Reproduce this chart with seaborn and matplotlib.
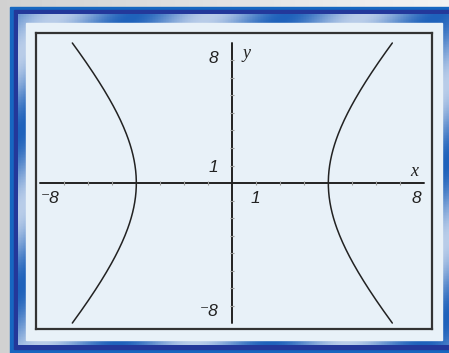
import numpy as np
import pandas as pd
import matplotlib
matplotlib.use("Agg")
import matplotlib.pyplot as plt
import seaborn as sns
from matplotlib.patches import Rectangle

# hyperbola x^2/a^2 - y^2/b^2 = 1, drawn for y in [-8, 8]
a = 4
b = 6
y_vals = np.linspace(-8, 8, 161)
x_ticks = [-7, -6, -5, -4, -3, -2, -1, 1, 2, 3, 4, 5, 6, 7]
y_ticks = [-7, -6, -5, -4, -3, -2, -1, 1, 2, 3, 4, 5, 6, 7]
axis_len = 8

W, H = 449, 353
sns.set_theme(style="white")
plt.rcParams['font.family'] = ['Liberation Sans', 'DejaVu Sans']

fig = plt.figure(figsize=(W / 100, H / 100), dpi=100)

# decorative frame drawn in pixel coordinates
bg = fig.add_axes([0, 0, 1, 1])
bg.set_xlim(0, W)
bg.set_ylim(H, 0)
bg.axis("off")
gray = np.linspace(0.82, 0.95, 64)[None, :]
bg.imshow(gray, cmap="gray", vmin=0, vmax=1, extent=[0, W, H, 0], aspect="auto", zorder=0)
bg.add_patch(Rectangle((10, 7), W - 10, H - 7, color="#1767c0", zorder=1))
bg.add_patch(Rectangle((14, 10), W - 14, 339, color="#23389a", zorder=2))
yy, xx = np.mgrid[0:120, 0:160]
stripes = 0.5 + 0.5 * np.sin((xx + yy) / 9.0)
cmap = matplotlib.colors.LinearSegmentedColormap.from_list("bl", ["#1f62bb", "#b9cde9"])
bg.imshow(stripes, cmap=cmap, extent=[18, W, 345, 14], aspect="auto", zorder=3)
bg.add_patch(Rectangle((26, 23), 416, 317, color="#e8f1f8", zorder=4))

ax = fig.add_axes([36 / W, 1 - 329 / H, 396 / W, 296 / H])
ax.set_facecolor("#e8f1f8")
ax.set_xlim(-8.18, 8.32)
ax.set_ylim(-8.34, 8.57)
for s in ax.spines.values():
    s.set_color("#333333")
    s.set_linewidth(1.6)
ax.set_xticks([])
ax.set_yticks([])
ax.grid(False)

# coordinate axes
ax.plot([-axis_len, axis_len], [0, 0], color="#222222", lw=1.4, zorder=2)
ax.plot([0, 0], [-axis_len, axis_len], color="#222222", lw=1.4, zorder=2)
ax.plot(x_ticks, [0] * len(x_ticks), ls="none", marker="|", ms=3,
        mew=0.8, color="#9a9a9a", zorder=3)
ax.plot([0] * len(y_ticks), y_ticks, ls="none", marker="_", ms=3,
        mew=0.8, color="#9a9a9a", zorder=3)

x_right = a * np.sqrt(1 + y_vals ** 2 / b ** 2)
df = pd.DataFrame({
    "x": np.concatenate([x_right, -x_right]),
    "y": np.concatenate([y_vals, y_vals]),
    "branch": ["right"] * len(y_vals) + ["left"] * len(y_vals),
})
sns.lineplot(data=df, x="x", y="y", units="branch", estimator=None, sort=False,
             color="#222222", lw=1.1, ax=ax, zorder=4)
ax.set_xlabel("")
ax.set_ylabel("")

num = dict(fontsize=12.5, style="italic", color="#222222", ha="center", va="center")
ax.text(-7.6, -0.9, "\u207b8", **num)
ax.text(7.67, -0.9, "8", **num)
ax.text(0.96, -0.87, "1", **num)
ax.text(-0.8, 0.91, "1", **num)
ax.text(-0.8, 7.14, "8", **num)
ax.text(-0.95, -7.35, "\u207b8", **num)
var = dict(fontsize=13, style="italic", color="#222222", ha="center", va="center",
           family="Liberation Serif")
ax.text(7.58, 0.65, "x", **var)
ax.text(0.6, 7.4, "y", **var)

fig.savefig("out.png", dpi=100)
